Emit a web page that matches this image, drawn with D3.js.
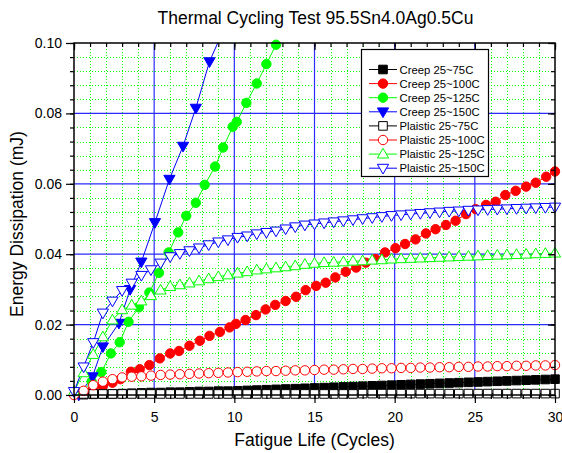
<!DOCTYPE html>
<html><head><meta charset="utf-8">
<script src="https://cdn.jsdelivr.net/npm/d3@7/dist/d3.min.js"></script>
<style>body{margin:0;background:#fff} svg{display:block}</style>
</head><body>
<svg id="c" width="562" height="453"></svg>
<script>
// ---------------- DATA ----------------
const chartTitle = "Thermal Cycling Test 95.5Sn4.0Ag0.5Cu";
const xLabel = "Fatigue Life (Cycles)";
const yLabel = "Energy Dissipation (mJ)";
const xTicks = [0, 5, 10, 15, 20, 25, 30];
const yTicks = [0.00, 0.02, 0.04, 0.06, 0.08, 0.10];
const seriesNames = ["Creep 25~75C", "Creep 25~100C", "Creep 25~125C", "Creep 25~150C",
  "Plaistic 25~75C", "Plaistic 25~100C", "Plaistic 25~125C", "Plaistic 25~150C"];

// common cycle grid of the plastic / 75C series
const xGrid = [0, 0.6, 1.2, 1.8, 2.4, 3, 3.6, 4.2, 4.8, 5.4, 6, 6.6, 7.2, 7.8, 8.4, 9, 9.6, 10.2, 10.8, 11.4,
  12, 12.6, 13.2, 13.8, 14.4, 15, 15.6, 16.2, 16.8, 17.4, 18, 18.6, 19.2, 19.8, 20.4, 21, 21.6, 22.2, 22.8,
  23.4, 24, 24.6, 25.2, 25.8, 26.4, 27, 27.6, 28.2, 28.8, 29.4, 30];

const creep75 = [0, 0.0001, 0.0002, 0.0003, 0.0003, 0.0004, 0.0005, 0.0006, 0.0007, 0.0007, 0.0008, 0.0008,
  0.0009, 0.0010, 0.0010, 0.0011, 0.0011, 0.0012, 0.0013, 0.0014, 0.0015, 0.0016, 0.0017, 0.0018, 0.0019,
  0.0020, 0.0021, 0.0022, 0.0023, 0.0024, 0.0025, 0.0026, 0.0027, 0.0028, 0.0029, 0.0030, 0.0031, 0.0032,
  0.0033, 0.0034, 0.0035, 0.0036, 0.0037, 0.0038, 0.0039, 0.0040, 0.0041, 0.0042, 0.0043, 0.0044, 0.0045];

const creep100X = [0.6, 1.2, 1.8, 2.4, 2.9, 3.55, 4.1, 4.7, 5.35, 6.0, 6.55, 7.2, 7.85, 8.45, 9.1, 9.7, 10.1,
  10.7, 11.35, 11.95, 12.55, 13.2, 13.85, 14.45, 15.1, 15.7, 16.3, 16.95, 17.6, 18.2, 18.8, 19.4, 20.05,
  20.65, 21.3, 21.95, 22.55, 23.2, 23.8, 24.45, 25.05, 25.7, 26.3, 26.9, 27.55, 28.2, 28.8, 29.45, 30];
const creep100 = [0.0008, 0.0016, 0.0025, 0.0035, 0.0045, 0.0066, 0.0073, 0.0085, 0.0104, 0.0118, 0.0125,
  0.0140, 0.0154, 0.0168, 0.0179, 0.0192, 0.0202, 0.0213, 0.0227, 0.0243, 0.0256, 0.0267, 0.0279, 0.0298,
  0.0310, 0.0319, 0.0334, 0.0350, 0.0362, 0.0376, 0.0386, 0.0405, 0.0417, 0.0429, 0.0442, 0.0459, 0.0471,
  0.0483, 0.0495, 0.0514, 0.0528, 0.0540, 0.0549, 0.0568, 0.0580, 0.0592, 0.0603, 0.0620, 0.0635];

const creep125X = [0.5, 1.1, 1.7, 2.3, 2.85, 3.4, 4.05, 4.7, 5.3, 5.9, 6.5, 7.0, 7.6, 8.15, 8.8, 9.3, 9.9,
  10.15, 10.75, 11.4, 12.0, 12.6, 13.2];
const creep125 = [0.0008, 0.0038, 0.0065, 0.0118, 0.0150, 0.0208, 0.0249, 0.0291, 0.0347, 0.0405, 0.0462,
  0.0509, 0.0546, 0.0597, 0.0649, 0.0703, 0.0762, 0.0776, 0.0830, 0.0885, 0.0940, 0.0995, 0.1050];

const creep150X = [0.3, 1.15, 1.8, 2.8, 3.5, 4.2, 5.05, 5.95, 6.8, 7.6, 8.45, 9.35];
const creep150 = [0.0000, 0.0052, 0.0137, 0.0204, 0.0300, 0.0378, 0.0490, 0.0613, 0.0707, 0.0815, 0.0947, 0.1040];

const plastic75 = [0.0002, 0.0003, 0.0003, 0.0003, 0.0003, 0.0003, 0.0003, 0.0003, 0.0003, 0.0003, 0.0003,
  0.0003, 0.0003, 0.0003, 0.0003, 0.0003, 0.0003, 0.0003, 0.0003, 0.0003, 0.0003, 0.0003, 0.0003, 0.0003,
  0.0003, 0.0003, 0.0003, 0.0003, 0.0003, 0.0003, 0.0004, 0.0004, 0.0004, 0.0004, 0.0004, 0.0004, 0.0004,
  0.0004, 0.0004, 0.0004, 0.0004, 0.0004, 0.0004, 0.0004, 0.0004, 0.0004, 0.0004, 0.0004, 0.0004, 0.0004, 0.0004];

const plastic100 = [0, 0.0012, 0.0028, 0.0038, 0.0045, 0.0050, 0.0052, 0.0053, 0.0055, 0.0057, 0.0058, 0.0059,
  0.0060, 0.0061, 0.0062, 0.0063, 0.0064, 0.0065, 0.0066, 0.0067, 0.0068, 0.0068, 0.0069, 0.0070, 0.0070,
  0.0071, 0.0072, 0.0072, 0.0073, 0.0074, 0.0074, 0.0075, 0.0076, 0.0076, 0.0077, 0.0077, 0.0078, 0.0078,
  0.0079, 0.0079, 0.0080, 0.0080, 0.0081, 0.0081, 0.0082, 0.0082, 0.0083, 0.0083, 0.0084, 0.0084, 0.0085];

const plastic125 = [0.0010, 0.0063, 0.0115, 0.0165, 0.0213, 0.0242, 0.0255, 0.0267, 0.0282, 0.0298, 0.0308,
  0.0313, 0.0318, 0.0324, 0.0330, 0.0336, 0.0341, 0.0346, 0.0350, 0.0355, 0.0358, 0.0361, 0.0364, 0.0367,
  0.0371, 0.0374, 0.0376, 0.0377, 0.0378, 0.0380, 0.0381, 0.0383, 0.0384, 0.0386, 0.0387, 0.0388, 0.0389,
  0.0390, 0.0391, 0.0392, 0.0393, 0.0394, 0.0395, 0.0396, 0.0397, 0.0398, 0.0399, 0.0400, 0.0401, 0.0402, 0.0403];

const plastic150 = [0.0010, 0.0080, 0.0149, 0.0233, 0.0267, 0.0297, 0.0318, 0.0340, 0.0356, 0.0375, 0.0393,
  0.0402, 0.0410, 0.0418, 0.0427, 0.0435, 0.0441, 0.0448, 0.0452, 0.0458, 0.0462, 0.0466, 0.0472, 0.0478,
  0.0483, 0.0486, 0.0489, 0.0492, 0.0495, 0.0498, 0.0501, 0.0504, 0.0507, 0.0510, 0.0512, 0.0514, 0.0516,
  0.0518, 0.0520, 0.0522, 0.0523, 0.0525, 0.0526, 0.0527, 0.0528, 0.0529, 0.0530, 0.0531, 0.0532, 0.0533, 0.0534];

// ---------------- STYLE / LAYOUT ----------------
const W = 562, H = 453;
const M = {left: 74, right: 555, top: 43, bottom: 395};
const FONT = "'Liberation Sans', Arial, Helvetica, sans-serif";

const series = [
  {name: seriesNames[0], xs: xGrid.slice(1), ys: creep75.slice(1), color: "#000000", shape: "square", fill: true},
  {name: seriesNames[1], xs: creep100X, ys: creep100, color: "#ff0000", shape: "circle", fill: true},
  {name: seriesNames[2], xs: creep125X, ys: creep125, color: "#00ff00", shape: "circle", fill: true},
  {name: seriesNames[3], xs: creep150X, ys: creep150, color: "#0000ff", shape: "down", fill: true},
  {name: seriesNames[4], xs: xGrid.slice(1), ys: plastic75.slice(1), color: "#000000", shape: "square", fill: false},
  {name: seriesNames[5], xs: xGrid, ys: plastic100, color: "#ff0000", shape: "circle", fill: false},
  {name: seriesNames[6], xs: xGrid, ys: plastic125, color: "#00ff00", shape: "up", fill: false},
  {name: seriesNames[7], xs: xGrid, ys: plastic150, color: "#0000ff", shape: "down", fill: false}
];

const x = d3.scaleLinear().domain([0, 30]).range([M.left, M.right]);
const y = d3.scaleLinear().domain([0, 0.1]).range([M.bottom, M.top]);

function shapePath(shape) {
  if (shape === "square") { const h = 4.3; return `M${-h},${-h}H${h}V${h}H${-h}Z`; }
  if (shape === "circle") { const r = 4.7; return `M${r},0A${r},${r} 0 1,1 ${-r},0A${r},${r} 0 1,1 ${r},0Z`; }
  if (shape === "up") return "M0,-5.8L5.6,3.9L-5.6,3.9Z";
  if (shape === "down") return "M0,5.8L5.6,-3.9L-5.6,-3.9Z";
}

const svg = d3.select("#c");
svg.append("rect").attr("width", W).attr("height", H).attr("fill", "#fff");

svg.append("defs").append("clipPath").attr("id", "clip")
  .append("rect").attr("x", M.left).attr("y", M.top)
  .attr("width", M.right - M.left).attr("height", M.bottom - M.top);

// ---- grid ----
const minorX = d3.range(1, 30).filter(v => v % 5 !== 0);
const minorY = d3.range(1, 25).map(i => i * 0.004).filter((v, i) => (i + 1) % 5 !== 0);
const grid = svg.append("g");
const minorG = grid.append("g").attr("shape-rendering", "crispEdges");
minorG.selectAll(".gx").data(minorX).join("line")
  .attr("x1", d => Math.round(x(d)) + 0.5).attr("x2", d => Math.round(x(d)) + 0.5)
  .attr("y1", M.top).attr("y2", M.bottom)
  .attr("stroke", "#00ff00").attr("stroke-width", 1).attr("stroke-dasharray", "1,2");
minorG.selectAll(".gy").data(minorY).join("line")
  .attr("y1", d => Math.round(y(d)) + 0.5).attr("y2", d => Math.round(y(d)) + 0.5)
  .attr("x1", M.left).attr("x2", M.right)
  .attr("stroke", "#00ff00").attr("stroke-width", 1).attr("stroke-dasharray", "1,2");
grid.selectAll(".mx").data(xTicks.slice(1, -1)).join("line")
  .attr("x1", d => x(d)).attr("x2", d => x(d))
  .attr("y1", M.top).attr("y2", M.bottom)
  .attr("stroke", "#2a2aff").attr("stroke-width", 1.2);
grid.selectAll(".my").data(yTicks.slice(1, -1)).join("line")
  .attr("y1", d => y(d)).attr("y2", d => y(d))
  .attr("x1", M.left).attr("x2", M.right)
  .attr("stroke", "#2a2aff").attr("stroke-width", 1.2);

// ---- series ----
const line = d3.line().x(d => x(d[0])).y(d => y(d[1]));
const plot = svg.append("g");
series.forEach(s => {
  const pts = s.xs.map((v, i) => [v, s.ys[i]]);
  plot.append("path").datum(pts).attr("d", line).attr("fill", "none")
    .attr("stroke", s.color).attr("stroke-width", 1).attr("clip-path", "url(#clip)");
});
series.forEach(s => {
  const pts = s.xs.map((v, i) => [v, s.ys[i]]).filter(p => p[1] <= 0.1);
  plot.append("g").selectAll("path").data(pts).join("path")
    .attr("transform", d => `translate(${x(d[0])},${y(d[1])})`)
    .attr("d", shapePath(s.shape))
    .attr("fill", s.fill ? s.color : "#fff")
    .attr("stroke", s.color).attr("stroke-width", 1);
});

// ---- axes ----
const axes = svg.append("g").attr("font-family", FONT);
function styleAxis(g) {
  g.select(".domain").remove();
  g.selectAll("line").attr("stroke", "#000").attr("stroke-width", 1.2);
}
// bottom
axes.append("g").attr("transform", `translate(0,${M.bottom})`)
  .call(d3.axisBottom(x).tickValues(d3.range(0, 31)).tickSize(4).tickFormat(""))
  .call(styleAxis);
axes.append("g").attr("transform", `translate(0,${M.bottom})`)
  .call(d3.axisBottom(x).tickValues(xTicks).tickSize(8).tickPadding(9).tickFormat(d3.format("d")))
  .call(styleAxis)
  .call(g => g.selectAll("text").attr("font-size", 14).attr("fill", "#000").attr("font-family", FONT));
// top
axes.append("g").attr("transform", `translate(0,${M.top})`)
  .call(d3.axisTop(x).tickValues(d3.range(0, 31)).tickSize(-4).tickFormat(""))
  .call(styleAxis);
axes.append("g").attr("transform", `translate(0,${M.top})`)
  .call(d3.axisTop(x).tickValues(xTicks).tickSize(-7).tickFormat(""))
  .call(styleAxis);
// left
axes.append("g").attr("transform", `translate(${M.left},0)`)
  .call(d3.axisLeft(y).tickValues(d3.range(0, 26).map(i => i * 0.004)).tickSize(4).tickFormat(""))
  .call(styleAxis);
axes.append("g").attr("transform", `translate(${M.left},0)`)
  .call(d3.axisLeft(y).tickValues(yTicks).tickSize(8).tickPadding(4).tickFormat(d3.format(".2f")))
  .call(styleAxis)
  .call(g => g.selectAll("text").attr("font-size", 14).attr("fill", "#000").attr("font-family", FONT));
// right
axes.append("g").attr("transform", `translate(${M.right},0)`)
  .call(d3.axisRight(y).tickValues(d3.range(0, 26).map(i => i * 0.004)).tickSize(-4).tickFormat(""))
  .call(styleAxis);
axes.append("g").attr("transform", `translate(${M.right},0)`)
  .call(d3.axisRight(y).tickValues(yTicks).tickSize(-7).tickFormat(""))
  .call(styleAxis);

// frame
svg.append("rect").attr("x", M.left).attr("y", M.top)
  .attr("width", M.right - M.left).attr("height", M.bottom - M.top)
  .attr("fill", "none").attr("stroke", "#000").attr("stroke-width", 1.5);

// ---- titles ----
svg.append("text").attr("x", (M.left + M.right) / 2 + 1).attr("y", 24)
  .attr("text-anchor", "middle").attr("font-family", FONT).attr("font-size", 17.5)
  .text(chartTitle);
svg.append("text").attr("x", (M.left + M.right) / 2).attr("y", 446)
  .attr("text-anchor", "middle").attr("font-family", FONT).attr("font-size", 17.5)
  .text(xLabel);
svg.append("text").attr("transform", "translate(23,224) rotate(-90)")
  .attr("text-anchor", "middle").attr("font-family", FONT).attr("font-size", 17.5)
  .text(yLabel);

// ---- legend ----
const lg = svg.append("g");
lg.append("rect").attr("x", 361.5).attr("y", 49.5).attr("width", 127).attr("height", 127)
  .attr("fill", "#fff").attr("stroke", "#000").attr("stroke-width", 1.2);
series.forEach((s, i) => {
  const cy = 69.5 + i * 14.1;
  lg.append("line").attr("x1", 369).attr("x2", 397).attr("y1", cy).attr("y2", cy)
    .attr("stroke", s.color).attr("stroke-width", 1);
  lg.append("path").attr("transform", `translate(383,${cy})`).attr("d", shapePath(s.shape))
    .attr("fill", s.fill ? s.color : "#fff").attr("stroke", s.color).attr("stroke-width", 1);
  lg.append("text").attr("x", 399.5).attr("y", cy + 4).attr("font-family", FONT)
    .attr("font-size", 11.3).text(s.name);
});
</script>
</body></html>
